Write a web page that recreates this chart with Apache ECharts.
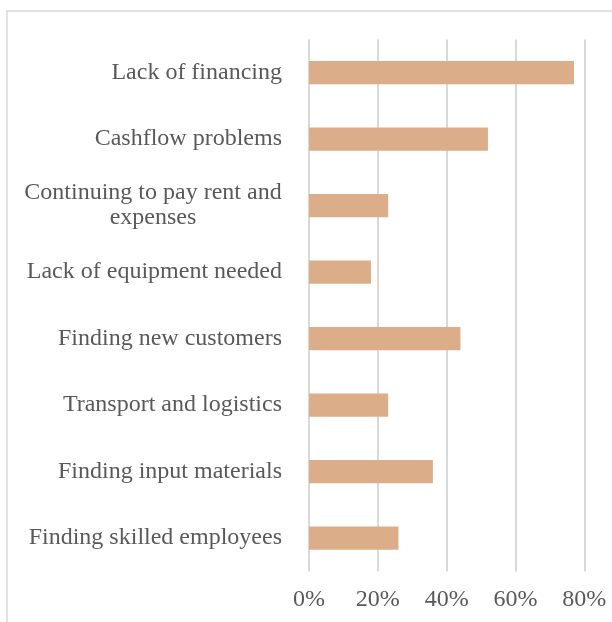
<!DOCTYPE html>
<html>
<head>
<meta charset="utf-8">
<script src="https://cdn.jsdelivr.net/npm/echarts@6/dist/echarts.min.js"></script>
<style>
  html, body { margin: 0; padding: 0; background: #ffffff; }
  #chart { width: 612px; height: 622px; }
</style>
</head>
<body>
<div id="chart"></div>
<script>
// Reported obstacles and share of firms citing each (%)
const categories = [
  'Lack of financing',
  'Cashflow problems',
  'Continuing to pay rent and expenses',
  'Lack of equipment needed',
  'Finding new customers',
  'Transport and logistics',
  'Finding input materials',
  'Finding skilled employees'
];
const shares = [77, 52, 23, 18, 44, 23, 36, 26];
const tickMin = 0;
const tickMax = 80;
const tickStep = 20;

const serif = '"Liberation Serif", "Times New Roman", serif';
const labelSize = 24;
const labelMaxWidth = 270;

// Word-wrap long category names; wrapped lines are centred within their block,
// while the block itself stays right-aligned against the axis.
const measureCtx = document.createElement('canvas').getContext('2d');
measureCtx.font = labelSize + 'px ' + serif;
const rich = {};
function wrapLabel(text, idx) {
  if (measureCtx.measureText(text).width <= labelMaxWidth) return text;
  const words = text.split(' ');
  const lines = [];
  let cur = '';
  words.forEach(w => {
    const trial = cur ? cur + ' ' + w : w;
    if (measureCtx.measureText(trial).width > labelMaxWidth && cur) {
      lines.push(cur);
      cur = w;
    } else {
      cur = trial;
    }
  });
  if (cur) lines.push(cur);
  const blockW = Math.ceil(Math.max(...lines.map(l => measureCtx.measureText(l).width)));
  const key = 'w' + idx;
  rich[key] = { width: blockW, align: 'center', lineHeight: 25, fontSize: labelSize, fontFamily: serif, color: '#595959' };
  return lines.map(l => '{' + key + '|' + l + '}').join('\n');
}
const labelText = {};
categories.forEach((c, i) => { labelText[c] = wrapLabel(c, i); });

const chart = echarts.init(document.getElementById('chart'), null, { renderer: 'canvas' });

chart.setOption({
  animation: false,
  backgroundColor: '#ffffff',
  graphic: [{
    type: 'rect',
    shape: { x: 7, y: 11, width: 640, height: 640 },
    style: { fill: 'none', stroke: '#d9d9d9', lineWidth: 1.5 },
    silent: true
  }],
  grid: { left: 309, right: 27.7, top: 39.4, bottom: 50.6, containLabel: false },
  xAxis: {
    type: 'value',
    min: tickMin,
    max: tickMax,
    interval: tickStep,
    axisLine: { show: false },
    axisTick: { show: false },
    splitLine: { show: true, lineStyle: { color: '#d9d9d9', width: 2 } },
    axisLabel: {
      formatter: '{value}%',
      color: '#595959',
      fontFamily: serif,
      fontSize: 24,
      margin: 16
    }
  },
  yAxis: {
    type: 'category',
    inverse: true,
    data: categories,
    axisLine: { show: false },
    axisTick: { show: false },
    axisLabel: {
      color: '#595959',
      fontFamily: serif,
      fontSize: labelSize,
      margin: 27,
      align: 'right',
      lineHeight: 25,
      formatter: v => labelText[v],
      rich: rich
    }
  },
  series: [{
    type: 'bar',
    data: shares,
    barWidth: '35%',
    itemStyle: { color: '#dbae89' }
  }]
});
</script>
</body>
</html>
